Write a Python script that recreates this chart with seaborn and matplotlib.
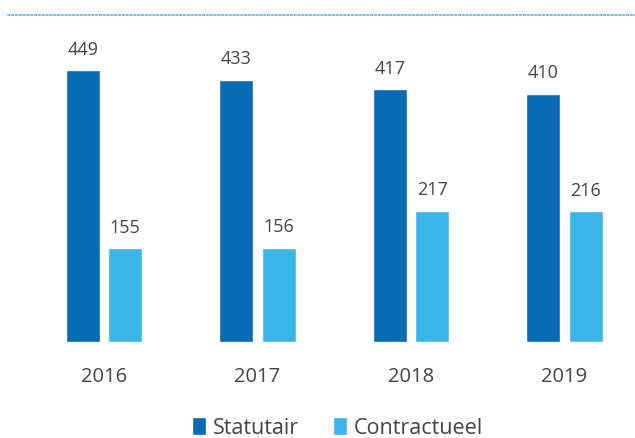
import matplotlib
matplotlib.use("Agg")
import matplotlib.pyplot as plt
import seaborn as sns
import pandas as pd
from matplotlib.patches import Patch

years = ["2016", "2017", "2018", "2019"]
statutair = [449, 433, 417, 410]
contractueel = [155, 156, 217, 216]
series_names = ["Statutair", "Contractueel"]
colors = ["#076cb3", "#3bb5e8"]

df = pd.DataFrame({
    "year": years * 2,
    "value": statutair + contractueel,
    "type": [series_names[0]] * 4 + [series_names[1]] * 4,
})

sns.set_theme(style="white")
plt.rcParams['font.family'] = ['Open Sans', 'DejaVu Sans']

fig = plt.figure(figsize=(6.35, 4.39), dpi=100)
ax = fig.add_axes([8/635, (439-343)/439, (635-8)/635, (343-16)/439])

sns.barplot(data=df, x="year", y="value", hue="type", palette=colors,
            width=0.554, gap=0.2, ax=ax, legend=False, saturation=1)

for cont in ax.containers:
    ax.bar_label(cont, padding=9, fontsize=13, color="#444444")

ax.set_xlim(-0.625, 3.46)
ax.set_ylim(0, 540)
ax.set_xlabel("")
ax.set_ylabel("")
ax.set_yticks([])
ax.tick_params(axis="x", length=0, labelsize=14.5, labelcolor="#444444", pad=17)
for s in ["left", "right", "bottom"]:
    ax.spines[s].set_visible(False)
ax.spines["top"].set_linestyle((0, (1, 1.5)))
ax.spines["top"].set_color("#3bb5e8")
ax.spines["top"].set_linewidth(1.1)

handles = [Patch(facecolor=c, label=n) for c, n in zip(colors, series_names)]
fig.legend(handles=handles, loc="lower center", bbox_to_anchor=(0.532, -0.045),
           ncol=2, frameon=False, fontsize=15.5, handlelength=0.65, handleheight=0.85,
           handletextpad=0.3, columnspacing=1.6, labelcolor="#444444")

fig.savefig("out.png", dpi=100)
